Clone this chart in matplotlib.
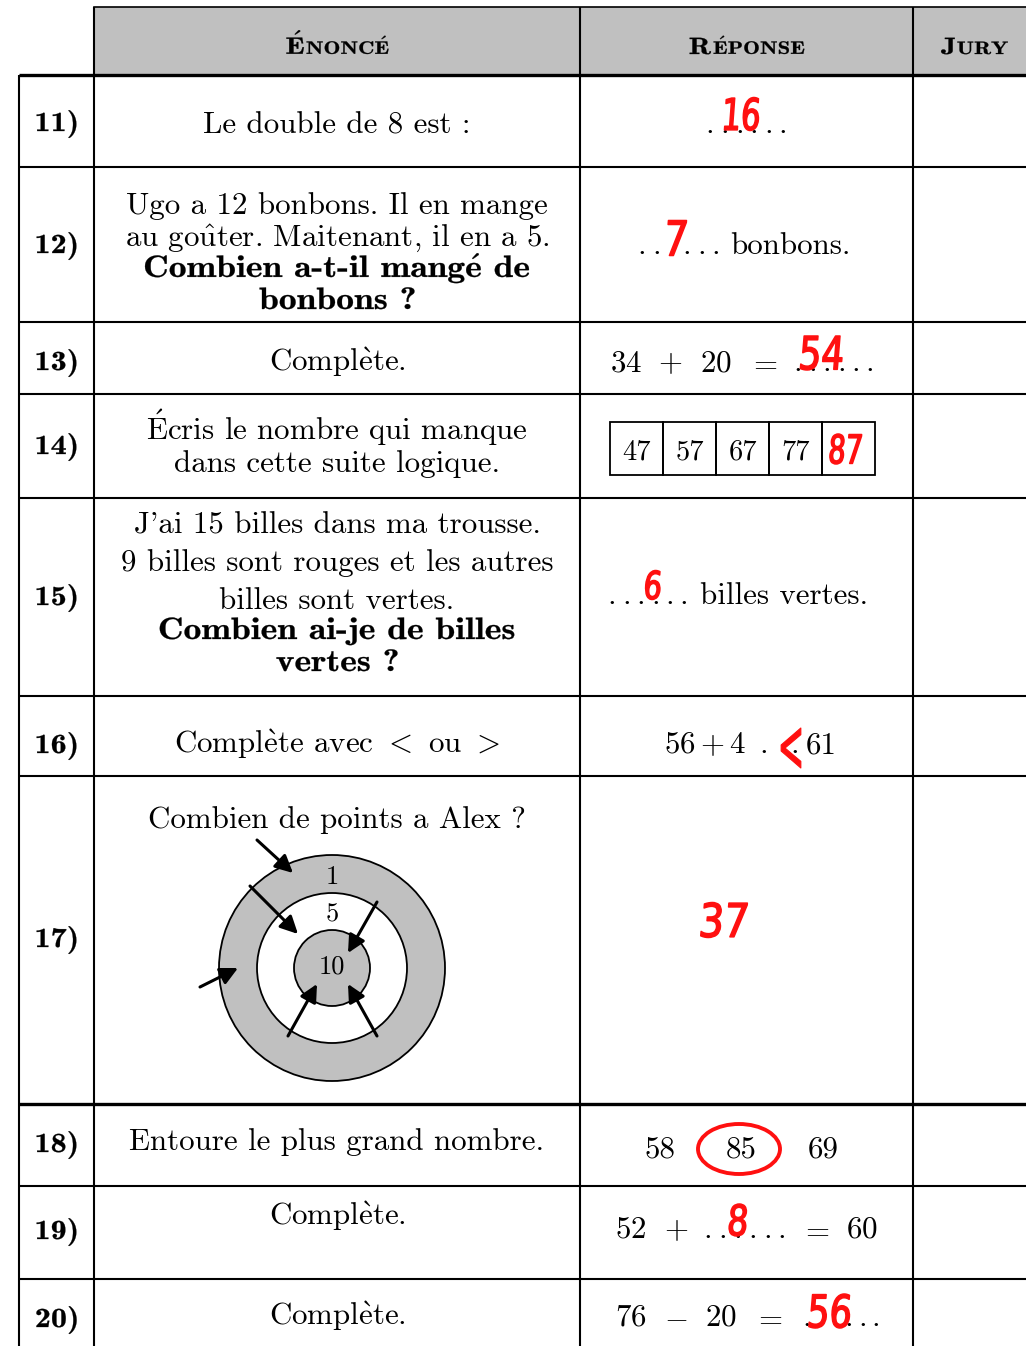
import numpy as np
import matplotlib.pyplot as plt
from matplotlib.patches import Rectangle, Circle, Ellipse, PathPatch, FancyArrowPatch
from matplotlib.textpath import TextPath
from matplotlib.font_manager import FontProperties
from matplotlib.transforms import Affine2D

plt.rcParams['mathtext.fontset'] = 'cm'
plt.rcParams['axes.formatter.use_mathtext'] = True

RM = 'cmr10'
BF = 'cmb10'
RED = '#ff1010'
GRIS = '#c0c0c0'

# --- contenu ---
headers = ['Énoncé', 'Réponse', 'Jury']
numbers = ['11)', '12)', '13)', '14)', '15)', '16)', '17)', '18)', '19)', '20)']
questions = [
    [('Le double de 8 est :', 0)],
    [('Ugo a 12 bonbons. Il en mange', 0), ('au goûter. Maitenant, il en a 5.', 0),
     ('Combien a-t-il mangé de', 1), ('bonbons ?', 1)],
    [('Complète.', 0)],
    [('Écris le nombre qui manque', 0), ('dans cette suite logique.', 0)],
    [("J'ai 15 billes dans ma trousse.", 0), ('9 billes sont rouges et les autres', 0),
     ('billes sont vertes.', 0), ('Combien ai-je de billes', 1), ('vertes ?', 1)],
    [('Complète avec $<$ ou $>$', 0)],
    [('Combien de points a Alex ?', 0)],
    [('Entoure le plus grand nombre.', 0)],
    [('Complète.', 0)],
    [('Complète.', 0)],
]
red_answers = ['16', '7', '54', '87', '6', '<', '37', '85', '8', '56']
suite = ['47', '57', '67', '77']
grand = ['58', '85', '69']
cible = ['1', '5', '10']

# --- mise en page (pixels) ---
W, H = 1026, 1346
col_x = [19, 94, 580, 913]
head_top, head_bot = 7, 75
row_edges = [75, 167, 322, 394, 498, 696, 776, 1104, 1186, 1279, 1346]
thick_rows = [75, 1104]
label_base = [131, 253, 370, 454, 605, 753, 947, 1152, 1239, 1327]
question_base = [[133], [214, 246, 277, 309], [371], [440, 472],
                 [534, 571, 609, 639, 671], [753], [828], [1150], [1225], [1325]]
QX = (col_x[1] + col_x[2]) / 2
AX = (col_x[2] + col_x[3]) / 2
FS = 22.3
LFS = 20
PX = 100 / 72

fig = plt.figure(figsize=(W / 100, H / 100), dpi=100)
ax = fig.add_axes([0, 0, 1, 1])
ax.set_xlim(0, W)
ax.set_ylim(H, 0)
ax.axis('off')


def accents(s, bold=False):
    f = r'\mathbf' if bold else r'\mathrm'
    for c, acc, base in [('è', 'grave', 'e'), ('é', 'acute', 'e'),
                         ('É', 'acute', 'E'), ('û', 'hat', 'u')]:
        s = s.replace(c, '$\\%s{%s{%s}}$' % (acc, f, base))
    return s.replace('$$', '')


def txt(x, y, s, ha='center', size=FS, color='black'):
    ax.text(x, y, accents(s), ha=ha, va='baseline', fontsize=size,
            family=RM, color=color)


def bold_text(x, y, s, size=FS, stretch=1.15):
    tp = TextPath((0, 0), accents(s, True), size=size * PX, prop=FontProperties(family=BF))
    e = tp.get_extents()
    tr = Affine2D().scale(stretch, -1).translate(x - (e.x0 + e.x1) / 2 * stretch, y)
    ax.add_patch(PathPatch(tr.transform_path(tp), fc='black', ec='black', lw=0.2))


def small_caps(x, y, word, big=17, small=13, stretch=1.25):
    up = word.upper()
    p1 = TextPath((0, 0), accents(up[0], True), size=big * PX, prop=FontProperties(family=BF))
    p2 = TextPath((0, 0), accents(up[1:], True), size=small * PX, prop=FontProperties(family=BF))
    off = p1.get_extents().x1 + 1.5
    total = (off + p2.get_extents().x1) * stretch
    x0 = x - total / 2
    for p, dx in [(p1, 0), (p2, off)]:
        tr = Affine2D().translate(dx, 0).scale(stretch, -1).translate(x0, y)
        ax.add_patch(PathPatch(tr.transform_path(p), fc='black', ec='black', lw=0.2))


def dots(x0, x1, y, n=6):
    for x in np.linspace(x0, x1, n):
        txt(x, y, '.')


def red_write(s, x, y, h, squeeze=0.8, slant=6, lw=1.1):
    tp = TextPath((0, 0), s, size=1, prop=FontProperties(family='DejaVu Sans'))
    e = tp.get_extents()
    k = h / e.height
    tr = (Affine2D().translate(-(e.x0 + e.x1) / 2, -(e.y0 + e.y1) / 2)
          .skew_deg(slant, 0).scale(k * squeeze, -k).translate(x, y))
    ax.add_patch(PathPatch(tr.transform_path(tp), fc=RED, ec=RED, lw=lw,
                           joinstyle='round', zorder=5))


# en-tête
ax.add_patch(Rectangle((col_x[1], head_top), W - col_x[1], head_bot - head_top,
                       fc=GRIS, ec='none'))
ax.plot([col_x[1], W], [head_top, head_top], color='black', lw=1.2)
head_centers = [QX, AX, (col_x[3] + W) / 2 + 5]
for word, xc in zip(headers, head_centers):
    small_caps(xc, 54, word)

# grille
for x in col_x:
    top = head_top if x > col_x[0] else head_bot
    ax.plot([x, x], [top, H], color='black', lw=1.5, solid_capstyle='butt')
for y in row_edges[:-1]:
    ax.plot([col_x[0], W], [y, y], color='black',
            lw=2.4 if y in thick_rows else 1.5, solid_capstyle='butt')

# numéros et énoncés
for i, num in enumerate(numbers):
    bold_text((col_x[0] + col_x[1]) / 2, label_base[i], num, size=LFS, stretch=1.16)
    for (line, b), y in zip(questions[i], question_base[i]):
        if b:
            bold_text(QX, y, line)
        else:
            txt(QX, y, line)

# 11)
dots(710, 783, 133)
red_write(red_answers[0], 742, 114, 33, squeeze=0.7)
# 12)
dots(642, 716, 254)
txt(730, 254, 'bonbons.', ha='left')
red_write(red_answers[1], 676, 238, 35)
# 13)
for s, x in zip(['34', '+', '20', '='], [626, 670, 716, 763]):
    txt(x, 371, '$' + s + '$')
dots(798, 870, 371)
red_write(red_answers[2], 822, 353, 34, squeeze=0.78)
# 14)
cw = 53
bx0, by0, bh = 610, 422, 53
for j, v in enumerate(suite + [red_answers[3]]):
    ax.add_patch(Rectangle((bx0 + j * cw, by0), cw, bh, fc='none', ec='black', lw=1.3))
    if j < len(suite):
        txt(bx0 + j * cw + cw / 2, 459, v, size=20.5)
    else:
        red_write(v, bx0 + j * cw + cw / 2 - 3, 449, 30, squeeze=0.68)
# 15)
dots(612, 684, 604)
txt(700, 604, 'billes vertes.', ha='left')
red_write(red_answers[4], 653, 585, 29, squeeze=0.75)
# 16)
txt(664, 753, '$56+4$', ha='left')
txt(764, 753, '.')
txt(795, 753, '.')
txt(806, 753, '61', ha='left')
red_write(red_answers[5], 791, 748, 40, squeeze=0.42, slant=0, lw=0.8)
# 17) cible
cx, cy = 332, 968
for r, fc in zip([113, 75, 38], [GRIS, 'white', GRIS]):
    ax.add_patch(Circle((cx, cy), r, fc=fc, ec='black', lw=1.3))
for s, y in zip(cible, [884, 921, 974]):
    txt(cx, y, s, size=19)
fleches = [((257, 840), (293, 873)), ((250, 886), (298, 934)), ((377, 902), (348, 953)),
           ((200, 987), (238, 968)), ((288, 1036), (317, 984)), ((377, 1036), (348, 984))]
for a, b in fleches:
    ax.add_patch(FancyArrowPatch(a, b, arrowstyle='-|>,head_length=7,head_width=3.5',
                                 color='black', lw=2.2, mutation_scale=1.5,
                                 shrinkA=0, shrinkB=0, zorder=4))
red_write(red_answers[6], 724, 920, 35, squeeze=0.85)
# 18)
gx = [660, 741, 823]
for s, x in zip(grand, gx):
    txt(x, 1158, s)
ax.add_patch(Ellipse((gx[grand.index(red_answers[7])] - 2, 1149), 82, 50,
                     fc='none', ec=RED, lw=2.8))
# 19)
txt(631, 1238, '$52$')
txt(676, 1238, '$+$')
dots(708, 782, 1238)
txt(815, 1238, '$=$')
txt(862, 1238, '$60$')
red_write(red_answers[8], 738, 1220, 32, squeeze=0.78)
# 20)
for s, x in zip(['76', '-', '20', '='], [631, 676, 721, 768]):
    txt(x, 1326, '$' + s + '$')
dots(807, 876, 1326)
red_write(red_answers[9], 830, 1311, 34, squeeze=0.78)

fig.savefig('out.png', dpi=100)
